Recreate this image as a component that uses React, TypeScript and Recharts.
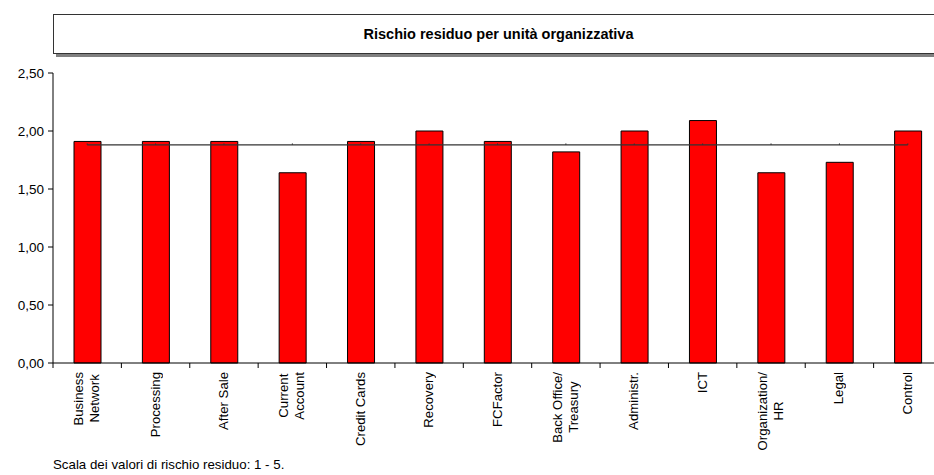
import { ComposedChart, Bar, Line, XAxis, YAxis } from 'recharts';

const units = [
  'Business\nNetwork',
  'Processing',
  'After Sale',
  'Current\nAccount',
  'Credit Cards',
  'Recovery',
  'FCFactor',
  'Back Office/\nTreasury',
  'Administr.',
  'ICT',
  'Organization/\nHR',
  'Legal',
  'Control',
];
const rischio = [1.91, 1.91, 1.91, 1.64, 1.91, 2.0, 1.91, 1.82, 2.0, 2.09, 1.64, 1.73, 2.0];
const media = [1.88, 1.88, 1.88, 1.88, 1.88, 1.88, 1.88, 1.88, 1.88, 1.88, 1.88, 1.88, 1.88];
const yTicks = [0, 0.5, 1, 1.5, 2, 2.5];

const data = units.map((u, i) => ({ unit: u, rischio: rischio[i], media: media[i] }));

const FONT = '"Liberation Sans", Arial, sans-serif';
const CHART_W = 960;
const PLOT_LEFT = 53;
const PLOT_RIGHT = 18;
const BAND = (CHART_W - PLOT_LEFT - PLOT_RIGHT) / units.length;

// category label: rotated, lines centred, block hanging from the axis
function UnitTick(props: any) {
  const { x, y, payload } = props;
  return (
    <g>
      <line x1={x - BAND / 2} x2={x - BAND / 2} y1={y} y2={y + 5} stroke="#000" />
      <foreignObject x={x - 40} y={y + 9} width={80} height={100}>
        <div style={{ width: '100%', height: '100%', display: 'flex', justifyContent: 'center', alignItems: 'flex-start' }}>
          <span
            style={{
              writingMode: 'vertical-rl',
              transform: 'rotate(180deg)',
              textAlign: 'center',
              whiteSpace: 'pre',
              lineHeight: '16px',
              fontSize: 13.2,
              fontFamily: FONT,
              color: '#000',
            }}
          >
            {payload.value}
          </span>
        </div>
      </foreignObject>
    </g>
  );
}

function TinyDot(props: any) {
  const { cx, cy } = props;
  return <line x1={cx} x2={cx} y1={cy - 1.5} y2={cy} stroke="#333" strokeWidth={1} />;
}

export default function App() {
  return (
    <div style={{ position: 'absolute', left: 0, top: 0, width: 934, height: 475, overflow: 'hidden', background: '#fff' }}>
      <div
        style={{
          position: 'absolute',
          left: 53,
          top: 14,
          width: CHART_W - PLOT_LEFT - PLOT_RIGHT,
          height: 38,
          border: '1.5px solid #333',
          boxShadow: '3px 3px 0 #808080',
          background: '#fff',
          display: 'flex',
          alignItems: 'center',
          justifyContent: 'center',
          fontFamily: FONT,
          fontWeight: 'bold',
          fontSize: 14.5,
          color: '#000',
        }}
      >
        Rischio residuo per unità organizzativa
      </div>
      <div style={{ position: 'absolute', left: 0, top: 0 }}>
        <ComposedChart
          width={CHART_W}
          height={475}
          data={data}
          margin={{ top: 73, right: PLOT_RIGHT, bottom: 0, left: 0 }}
        >
          <XAxis
            dataKey="unit"
            interval={0}
            tickLine={false}
            tickSize={0}
            tickMargin={0}
            height={112}
            axisLine={{ stroke: '#000' }}
            tick={<UnitTick />}
          />
          <YAxis
            width={PLOT_LEFT}
            domain={[0, 2.5]}
            ticks={yTicks}
            tickSize={5}
            tickMargin={4}
            axisLine={{ stroke: '#000' }}
            tickLine={{ stroke: '#000' }}
            tickFormatter={(v: number) => v.toFixed(2).replace('.', ',')}
            tick={{ fill: '#000', fontSize: 13.5, fontFamily: FONT }}
          />
          <Bar dataKey="rischio" fill="#ff0000" stroke="#000" strokeWidth={1} barSize={27} isAnimationActive={false} />
          <Line
            dataKey="media"
            type="linear"
            stroke="#333"
            strokeWidth={1.2}
            dot={<TinyDot />}
            activeDot={false}
            isAnimationActive={false}
          />
        </ComposedChart>
      </div>
      <div
        style={{
          position: 'absolute',
          left: 53,
          top: 457,
          fontFamily: FONT,
          fontSize: 13.3,
          color: '#000',
          whiteSpace: 'nowrap',
        }}
      >
        Scala dei valori di rischio residuo: 1 - 5.
      </div>
    </div>
  );
}
